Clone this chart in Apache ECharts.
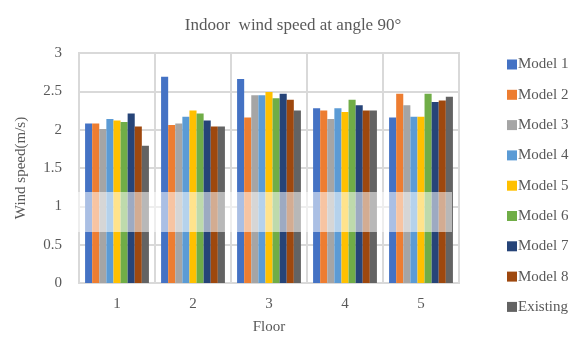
<!DOCTYPE html>
<html><head><meta charset="utf-8">
<script src="https://cdn.jsdelivr.net/npm/echarts@6/dist/echarts.min.js"></script>
<style>html,body{margin:0;padding:0;background:#fff}#c{width:582px;height:340px}</style>
</head><body><div id="c"></div>
<script>
const categories = ['1', '2', '3', '4', '5'];
const seriesNames = ['Model 1','Model 2','Model 3','Model 4','Model 5','Model 6','Model 7','Model 8','Existing'];
const model1 = [2.08, 2.69, 2.66, 2.28, 2.16];
const model2 = [2.08, 2.06, 2.16, 2.25, 2.47];
const model3 = [2.01, 2.08, 2.45, 2.14, 2.32];
const model4 = [2.14, 2.17, 2.45, 2.28, 2.17];
const model5 = [2.12, 2.25, 2.49, 2.23, 2.17];
const model6 = [2.10, 2.21, 2.41, 2.39, 2.47];
const model7 = [2.21, 2.12, 2.47, 2.32, 2.36];
const model8 = [2.04, 2.04, 2.39, 2.25, 2.38];
const existing = [1.79, 2.04, 2.25, 2.25, 2.43];
const seriesData = [model1, model2, model3, model4, model5, model6, model7, model8, existing];
const colors = ['#4472C4','#ED7D31','#A5A5A5','#5B9BD5','#FFC000','#70AD47','#264478','#9E480E','#636363'];
const font = 'Liberation Serif';
const chart = echarts.init(document.getElementById('c'));
chart.setOption({
  animation: false,
  color: colors,
  title: { text: 'Indoor  wind speed at angle 90°', left: 288, top: 12, textAlign: 'center',
    textStyle: { fontFamily: font, fontSize: 17, fontWeight: 'normal', color: '#595959' } },
  grid: { left: 79, right: 123, top: 53, bottom: 53, show: true, borderColor: '#d9d9d9', borderWidth: 2 },
  legend: { orient: 'vertical', left: 502, top: 52, itemWidth: 10, itemHeight: 10, itemGap: 15.3,
    icon: 'rect', textStyle: { fontFamily: font, fontSize: 15, color: '#595959', padding: [0,0,0,-4] },
    data: seriesNames },
  xAxis: { type: 'category', data: categories, name: 'Floor', nameLocation: 'middle', nameGap: 37,
    nameTextStyle: { fontFamily: font, fontSize: 15, color: '#595959' },
    axisLine: { lineStyle: { color: '#d9d9d9', width: 2 } }, axisTick: { show: false },
    axisLabel: { fontFamily: font, fontSize: 15, color: '#595959', margin: 14 },
    splitLine: { show: true, lineStyle: { color: '#d9d9d9', width: 2 } } },
  yAxis: { type: 'value', min: 0, max: 3, interval: 0.5, name: 'Wind speed(m/s)', nameLocation: 'middle', nameGap: 50,
    nameTextStyle: { fontFamily: font, fontSize: 15, color: '#595959' },
    axisLine: { show: false }, axisTick: { show: false },
    axisLabel: { fontFamily: font, fontSize: 15, color: '#595959', margin: 17 },
    splitLine: { lineStyle: { color: '#d9d9d9', width: 2 } } },
  series: seriesNames.map((n, i) => ({ name: n, type: 'bar', data: seriesData[i], barGap: '0%', barCategoryGap: '16%' })),
  graphic: [{ type: 'rect', shape: { x: 78, y: 192, width: 374, height: 40 }, z: 100,
    style: { fill: 'rgba(255,255,255,0.55)' } }]
});
</script></body></html>
